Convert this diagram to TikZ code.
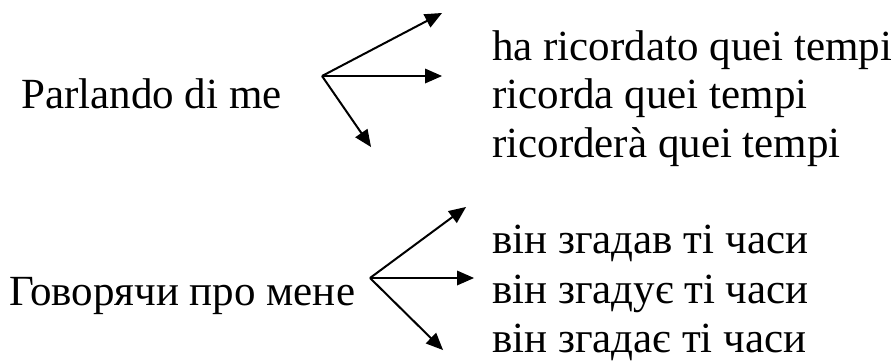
\documentclass[tikz,border=0pt]{standalone}
\usepackage{fontspec}
\setmainfont{Liberation Serif}
\usetikzlibrary{calc}
\newcommand\headarrow[2]{%
  \coordinate (hb) at ($(#2)!17pt!(#1)$);
  \draw[line width=2pt] (#1) -- ($(#2)!15pt!(#1)$);
  \fill[black] (#2) -- ($(hb)!7.5pt!90:(#2)$) -- ($(hb)!7.5pt!-90:(#2)$) -- cycle;}
\begin{document}
\begin{tikzpicture}[x=1pt,y=-1pt,
  txt/.style={anchor=base west,inner sep=0pt,font=\fontsize{43}{48}\selectfont}]
\useasboundingbox (0,0) rectangle (891,360);
% top group
\node[txt] (p) at (21,108) {Parlando di me};
\node[txt] (a1) at (492,60) {ha ricordato quei tempi};
\node[txt] (a2) at (492,108) {ricorda quei tempi};
\node[txt] (a3) at (492,157) {ricorderà quei tempi};
\coordinate (o1) at (322,76);
\coordinate (t11) at (442,13);
\coordinate (t12) at (442,76);
\coordinate (t13) at (371,147);
\headarrow{o1}{t11}
\headarrow{o1}{t12}
\headarrow{o1}{t13}
% bottom group
\node[txt] (g) at (9,305) {Говорячи про мене};
\node[txt] (b1) at (492,253) {він згадав ті часи};
\node[txt] (b2) at (492,303) {він згадує ті часи};
\node[txt] (b3) at (492,352) {він згадає ті часи};
\coordinate (o2) at (370,278);
\coordinate (t21) at (466,207);
\coordinate (t22) at (474,278);
\coordinate (t23) at (443,350);
\headarrow{o2}{t21}
\headarrow{o2}{t22}
\headarrow{o2}{t23}
\end{tikzpicture}
\end{document}
